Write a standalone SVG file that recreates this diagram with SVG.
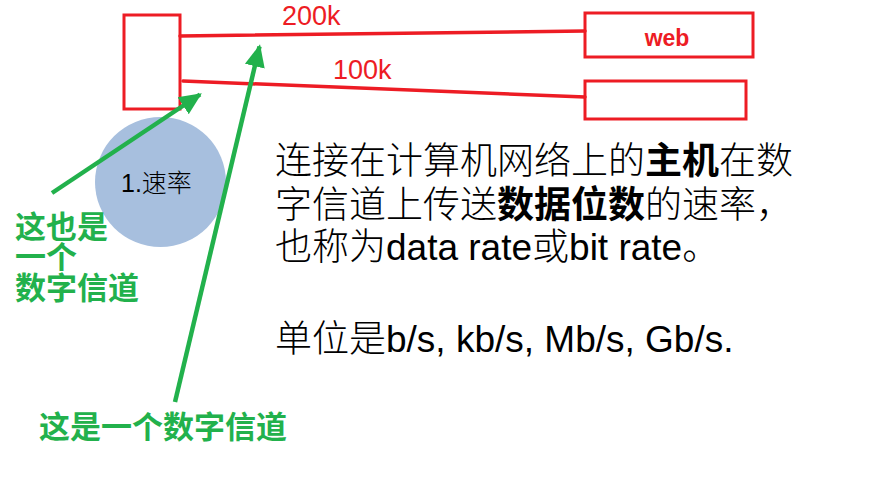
<svg xmlns="http://www.w3.org/2000/svg" width="892" height="504" viewBox="0 0 892 504">
  <style>
    .box { fill: none; stroke: #ED1C24; stroke-width: 3; }
    .link { fill: none; stroke: #ED1C24; stroke-width: 3.5; stroke-linecap: round; }
    .rate { font-family: "Liberation Sans", Arial, sans-serif; font-size: 27px; fill: #ED1C24; }
    .web { font-family: "Liberation Sans", Arial, sans-serif; font-size: 23px; font-weight: bold; fill: #ED1C24; }
    .ptr { fill: none; stroke: #22B14C; stroke-width: 4.5; }
    .note { font-family: "Noto Sans CJK SC", sans-serif; font-size: 31px; font-weight: bold; fill: #22B14C; }
    .body { font-family: "Liberation Sans", "Noto Sans CJK SC", sans-serif; font-size: 37px; font-weight: 300; fill: #000; }
    .b { font-weight: bold; }
  </style>
  <defs>
    <marker id="greenHead" viewBox="0 0 10 10" refX="9" refY="5" markerWidth="5" markerHeight="5" orient="auto" markerUnits="strokeWidth">
      <path d="M0,0.5 L10,5 L0,9.5 z" fill="#22B14C"/>
    </marker>
  </defs>

  <!-- host on the left -->
  <g id="host">
    <rect class="box" x="124" y="15" width="56" height="94"/>
  </g>

  <!-- web server -->
  <g id="web">
    <rect class="box" x="585" y="13" width="168" height="44"/>
    <text class="web" x="667" y="46" text-anchor="middle">web</text>
  </g>

  <!-- second server -->
  <g id="server2">
    <rect class="box" x="585" y="81" width="161" height="38"/>
  </g>

  <!-- rate bubble -->
  <g id="rate">
    <ellipse cx="160.5" cy="182" rx="65.5" ry="65" fill="#A7BFDE"/>
    <text x="121" y="192" font-family="Liberation Sans, Noto Sans CJK SC, sans-serif" font-size="25" font-weight="300" fill="#000">1.速率</text>
  </g>

  <!-- links and pointers -->
  <g id="connectors">
    <line class="link" x1="180" y1="36" x2="585" y2="31"/>
    <line class="link" x1="183" y1="81" x2="585" y2="97"/>
    <line class="ptr" x1="52" y1="193" x2="200" y2="94.5" marker-end="url(#greenHead)"/>
    <line class="ptr" x1="175" y1="402" x2="259.5" y2="46.5" marker-end="url(#greenHead)"/>
  </g>

  <!-- link labels -->
  <g id="labels">
    <text class="rate" x="282" y="25">200k</text>
    <text class="rate" x="333" y="79">100k</text>
  </g>

  <!-- green notes -->
  <g id="note1">
    <text class="note" x="15" y="238">这也是<tspan x="15" dy="30">一个</tspan><tspan x="15" dy="31">数字信道</tspan></text>
  </g>
  <g id="note2">
    <text class="note" x="39" y="438">这是一个数字信道</text>
  </g>

  <!-- description -->
  <g id="description">
    <text class="body" x="275" y="174">连接在计算机网络上的<tspan class="b">主机</tspan>在数</text>
    <text class="body" x="275" y="218">字信道上传送<tspan class="b">数据位数</tspan>的速率，</text>
    <text class="body" x="275" y="260">也称为data rate或bit rate。</text>
    <text class="body" x="275" y="352">单位是b/s, kb/s, Mb/s, Gb/s.</text>
  </g>
</svg>
